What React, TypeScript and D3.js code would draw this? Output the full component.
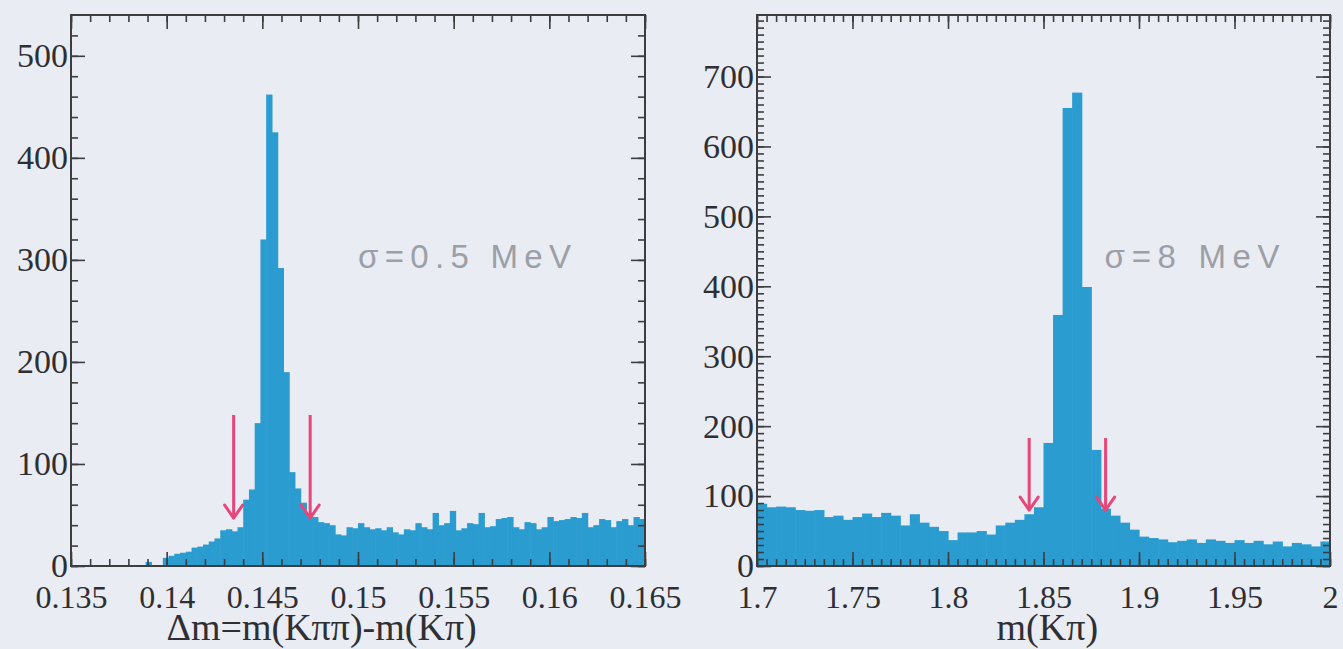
import * as d3 from "d3";
import React, { useEffect, useRef } from "react";

// left panel: delta m = m(Kpipi) - m(Kpi), 100 bins from 0.135 to 0.165
const dmDomain = [0.135, 0.165];
const dmCounts = [
  0, 0, 0, 0, 0, 0, 0, 0, 0, 0, 0, 0, 0,
  4, 0, 0, 8, 10, 12, 13, 14, 18, 19, 21, 24, 27, 35, 36, 34, 38,
  65, 75, 140, 320, 462, 425, 292, 190, 92, 76, 62, 52, 48, 43, 42,
  40, 31, 30, 38, 37, 42, 38, 36, 37, 35, 38, 33, 31, 36, 35, 42, 38, 36, 52, 40,
  42, 54, 35, 37, 42, 41, 52, 38, 39, 46, 47, 48, 38, 36, 43, 42, 36, 38, 48, 44,
  45, 46, 48, 47, 52, 38, 40, 46, 45, 38, 44, 46, 40, 48, 46,
];
const dmXTicks = [0.135, 0.14, 0.145, 0.15, 0.155, 0.16, 0.165];
const dmXLabels = ["0.135", "0.14", "0.145", "0.15", "0.155", "0.16", "0.165"];
const dmYTicks = [0, 100, 200, 300, 400, 500];
const dmCuts = [0.1435, 0.1475];
const dmArrowY = [148, 47];

// right panel: m(Kpi), 60 bins from 1.7 to 2.0
const mDomain = [1.7, 2.0];
const mCounts = [
  89, 84, 85, 84, 80, 79, 80, 70, 72, 66,
  70, 75, 70, 76, 72, 58, 74, 62, 56, 50,
  37, 48, 48, 50, 45, 58, 62, 66, 74, 84,
  176, 359, 655, 677, 399, 166, 82, 72, 62, 52,
  42, 40, 38, 34, 36, 38, 33, 38, 36, 33,
  37, 33, 36, 31, 35, 28, 33, 31, 28, 35,
];
const mXTicks = [1.7, 1.75, 1.8, 1.85, 1.9, 1.95, 2.0];
const mXLabels = ["1.7", "1.75", "1.8", "1.85", "1.9", "1.95", "2"];
const mYTicks = [0, 100, 200, 300, 400, 500, 600, 700];
const mCuts = [1.8425, 1.8825];
const mArrowY = [183, 80];

const BG = "#e9ecf3";
const BAR = "#2a9cd0";
const AXIS = "#3d3d40";
const ARROW = "#e6467a";
const SERIF = "'Liberation Serif', 'Times New Roman', serif";
const SANS = "'Liberation Sans', Arial, sans-serif";

const drawPanel = (svg, p) => {
  const top = 15;
  const bottom = 566;
  const x = d3.scaleLinear().domain(p.xDomain).range([p.left, p.right]);
  const y = d3.scaleLinear().domain(p.yDomain).range([bottom, top]);
  const binW = (p.xDomain[1] - p.xDomain[0]) / p.counts.length;
  const g = svg.append("g");

  // histogram bins
  g.selectAll("rect.bin")
    .data(p.counts)
    .join("rect")
    .attr("class", "bin")
    .attr("x", (d, i) => x(p.xDomain[0] + i * binW))
    .attr("width", (d, i) => x(p.xDomain[0] + (i + 1) * binW) - x(p.xDomain[0] + i * binW) + 0.6)
    .attr("y", (d) => y(d))
    .attr("height", (d) => y(0) - y(d))
    .attr("fill", BAR);

  const minorX = d3.range(p.xDomain[0], p.xDomain[1] + p.xMinor / 2, p.xMinor);
  const minorY = d3.range(0, p.yDomain[1], p.yMinor);

  const style = (sel) => {
    sel.select(".domain").remove();
    sel.attr("font-family", SERIF);
    sel.selectAll("line").attr("stroke", AXIS).attr("stroke-width", 1.6);
  };

  // minor ticks on all four sides
  g.append("g").attr("transform", `translate(0,${bottom})`)
    .call(d3.axisBottom(x).tickValues(minorX).tickSize(-7).tickFormat(() => "")).call(style);
  g.append("g").attr("transform", `translate(0,${top})`)
    .call(d3.axisTop(x).tickValues(minorX).tickSize(-7).tickFormat(() => "")).call(style);
  g.append("g").attr("transform", `translate(${p.left},0)`)
    .call(d3.axisLeft(y).tickValues(minorY).tickSize(-7).tickFormat(() => "")).call(style);
  g.append("g").attr("transform", `translate(${p.right},0)`)
    .call(d3.axisRight(y).tickValues(minorY).tickSize(-7).tickFormat(() => "")).call(style);

  // major ticks + labels
  const xb = g.append("g").attr("transform", `translate(0,${bottom})`)
    .call(d3.axisBottom(x).tickValues(p.xTicks).tickSize(-14).tickPadding(19)
      .tickFormat((d, i) => p.xLabels[i])).call(style);
  xb.selectAll("text").attr("font-family", SERIF).attr("font-size", 32).attr("fill", "#2f2f33");
  g.append("g").attr("transform", `translate(0,${top})`)
    .call(d3.axisTop(x).tickValues(p.xTicks).tickSize(-14).tickFormat(() => "")).call(style);
  const yl = g.append("g").attr("transform", `translate(${p.left},0)`)
    .call(d3.axisLeft(y).tickValues(p.yTicks).tickSize(-14).tickPadding(3)).call(style);
  yl.selectAll("text").attr("font-family", SERIF).attr("font-size", 34).attr("fill", "#2f2f33");
  g.append("g").attr("transform", `translate(${p.right},0)`)
    .call(d3.axisRight(y).tickValues(p.yTicks).tickSize(-14).tickFormat(() => "")).call(style);

  // frame
  g.append("rect")
    .attr("x", p.left).attr("y", top)
    .attr("width", p.right - p.left).attr("height", bottom - top)
    .attr("fill", "none").attr("stroke", AXIS).attr("stroke-width", 2);

  // cut arrows
  p.cuts.forEach((c) => {
    const ax = x(c);
    const tip = y(p.arrowY[1]);
    g.append("line")
      .attr("x1", ax).attr("x2", ax)
      .attr("y1", y(p.arrowY[0])).attr("y2", tip - 2)
      .attr("stroke", ARROW).attr("stroke-width", 3);
    g.append("polyline")
      .attr("points", `${ax - 9},${tip - 13} ${ax},${tip} ${ax + 9},${tip - 13}`)
      .attr("fill", "none").attr("stroke", ARROW).attr("stroke-width", 3)
      .attr("stroke-linejoin", "round").attr("stroke-linecap", "round");
  });

  // resolution note
  g.append("text")
    .attr("x", x(p.note.x)).attr("y", y(p.note.y))
    .attr("font-family", SANS).attr("font-size", 33).attr("fill", "#9c9fa6")
    .attr("textLength", p.note.len).attr("lengthAdjust", "spacing")
    .text(p.note.text);

  // axis title
  g.append("text")
    .attr("x", x(p.titleX)).attr("y", 640)
    .attr("text-anchor", "middle")
    .attr("font-family", SERIF).attr("font-size", 38).attr("fill", "#2f2f33")
    .text(p.title);
};

const App = () => {
  const ref = useRef(null);

  useEffect(() => {
    const svg = d3.select(ref.current);
    svg.selectAll("*").remove();
    svg.append("rect").attr("width", 1343).attr("height", 649).attr("fill", BG);

    drawPanel(svg, {
      left: 71, right: 645,
      xDomain: dmDomain, yDomain: [0, 540],
      counts: dmCounts,
      xTicks: dmXTicks, xLabels: dmXLabels, xMinor: 0.001,
      yTicks: dmYTicks, yMinor: 20,
      cuts: dmCuts, arrowY: dmArrowY,
      note: { text: "σ=0.5 MeV", x: 0.15, y: 292, len: 213 },
      title: "Δm=m(Kππ)-m(Kπ)", titleX: 0.1481,
    });

    drawPanel(svg, {
      left: 757, right: 1330,
      xDomain: mDomain, yDomain: [0, 788],
      counts: mCounts,
      xTicks: mXTicks, xLabels: mXLabels, xMinor: 0.005,
      yTicks: mYTicks, yMinor: 10,
      cuts: mCuts, arrowY: mArrowY,
      note: { text: "σ=8 MeV", x: 1.882, y: 426, len: 175 },
      title: "m(Kπ)", titleX: 1.852,
    });
  }, []);

  return (
    <svg
      ref={ref}
      width={1343}
      height={649}
      style={{ position: "absolute", left: 0, top: 0, display: "block" }}
    />
  );
};

export default App;
